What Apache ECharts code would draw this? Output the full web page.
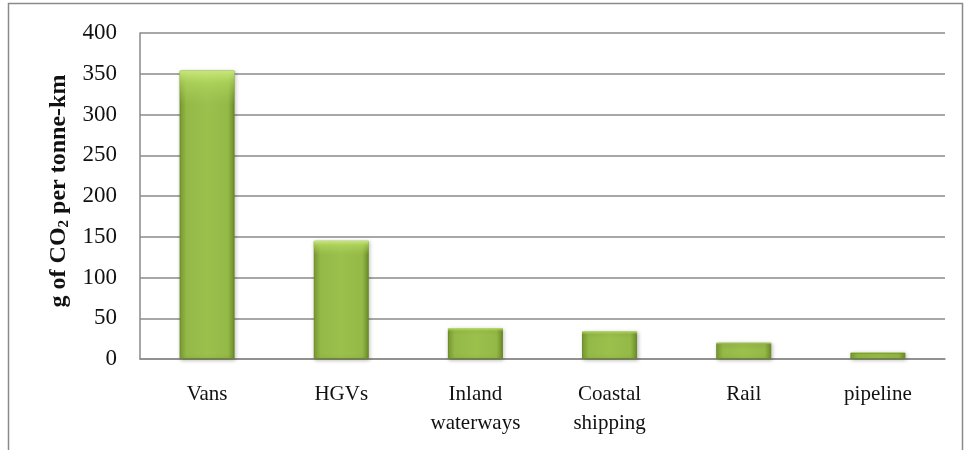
<!DOCTYPE html>
<html>
<head>
<meta charset="utf-8">
<script src="https://cdn.jsdelivr.net/npm/echarts@6/dist/echarts.min.js"></script>
<style>
  html, body { margin: 0; padding: 0; background: #fff; }
  #chart { width: 964px; height: 450px; }
</style>
</head>
<body>
<div id="chart"></div>
<script>
// Freight modes and their CO2 intensity (g per tonne-km)
const categories = ['Vans', 'HGVs', 'Inland\nwaterways', 'Coastal\nshipping', 'Rail', 'pipeline'];
const emissions = [354, 145, 38, 34, 20, 8];
const yTicks = { min: 0, max: 400, interval: 50 };

const chart = echarts.init(document.getElementById('chart'), null, { renderer: 'canvas' });
const font = '"Liberation Serif", "DejaVu Serif", serif';

chart.setOption({
  animation: false,
  textStyle: { fontFamily: font },
  graphic: [{
    type: 'rect',
    shape: { x: 8.5, y: 3.5, width: 954, height: 470 },
    style: { fill: 'none', stroke: '#8a8a8a', lineWidth: 1.5 },
    silent: true
  }],
  grid: { left: 140, right: 19, top: 33, bottom: 91 },
  xAxis: {
    type: 'category',
    data: categories,
    axisLine: { lineStyle: { color: '#8a8a8a', width: 1.5 } },
    axisTick: { show: false },
    axisLabel: {
      color: '#111', fontSize: 21, fontFamily: font,
      margin: 21, lineHeight: 29, interval: 0
    }
  },
  yAxis: {
    type: 'value',
    min: yTicks.min, max: yTicks.max, interval: yTicks.interval,
    axisLine: { show: true, lineStyle: { color: '#8a8a8a', width: 1.5 } },
    axisTick: { show: false },
    splitLine: { lineStyle: { color: '#8a8a8a', width: 1.5 } },
    axisLabel: { color: '#111', fontSize: 23, fontFamily: font, margin: 23 },
    name: 'g of CO{sub|2} per tonne-km',
    nameLocation: 'middle',
    nameGap: 68,
    nameTextStyle: {
      color: '#111', fontSize: 24, fontWeight: 'bold', fontFamily: font,
      padding: [0, 0, 0, 10],
      rich: {
        sub: { fontSize: 15, fontWeight: 'bold', fontFamily: font, verticalAlign: 'bottom', padding: [10, 0, 0, 0] }
      }
    }
  },
  series: [{
    type: 'bar',
    data: emissions,
    barWidth: 55,
    itemStyle: {
      color: {
        type: 'linear', x: 0, y: 0, x2: 1, y2: 0,
        colorStops: [
          { offset: 0, color: '#7e9f34' },
          { offset: 0.12, color: '#94b947' },
          { offset: 0.5, color: '#9cc04c' },
          { offset: 0.88, color: '#94b947' },
          { offset: 1, color: '#6f8e2a' }
        ]
      },
      borderColor: '#6a8a26',
      borderWidth: 1,
      shadowColor: 'rgba(0,0,0,0.25)',
      shadowBlur: 4,
      shadowOffsetX: 1,
      shadowOffsetY: 1
    }
  }, {
    // light bevel along the top of each bar
    type: 'bar',
    data: emissions,
    barWidth: 55,
    barGap: '-100%',
    silent: true,
    z: 3,
    itemStyle: {
      color: {
        type: 'linear', x: 0, y: 0, x2: 0, y2: 1,
        colorStops: [
          { offset: 0, color: 'rgba(205,235,130,0.95)' },
          { offset: 0.04, color: 'rgba(185,222,100,0.6)' },
          { offset: 0.12, color: 'rgba(170,210,90,0)' },
          { offset: 1, color: 'rgba(170,210,90,0)' }
        ]
      }
    }
  }]
});
</script>
</body>
</html>
